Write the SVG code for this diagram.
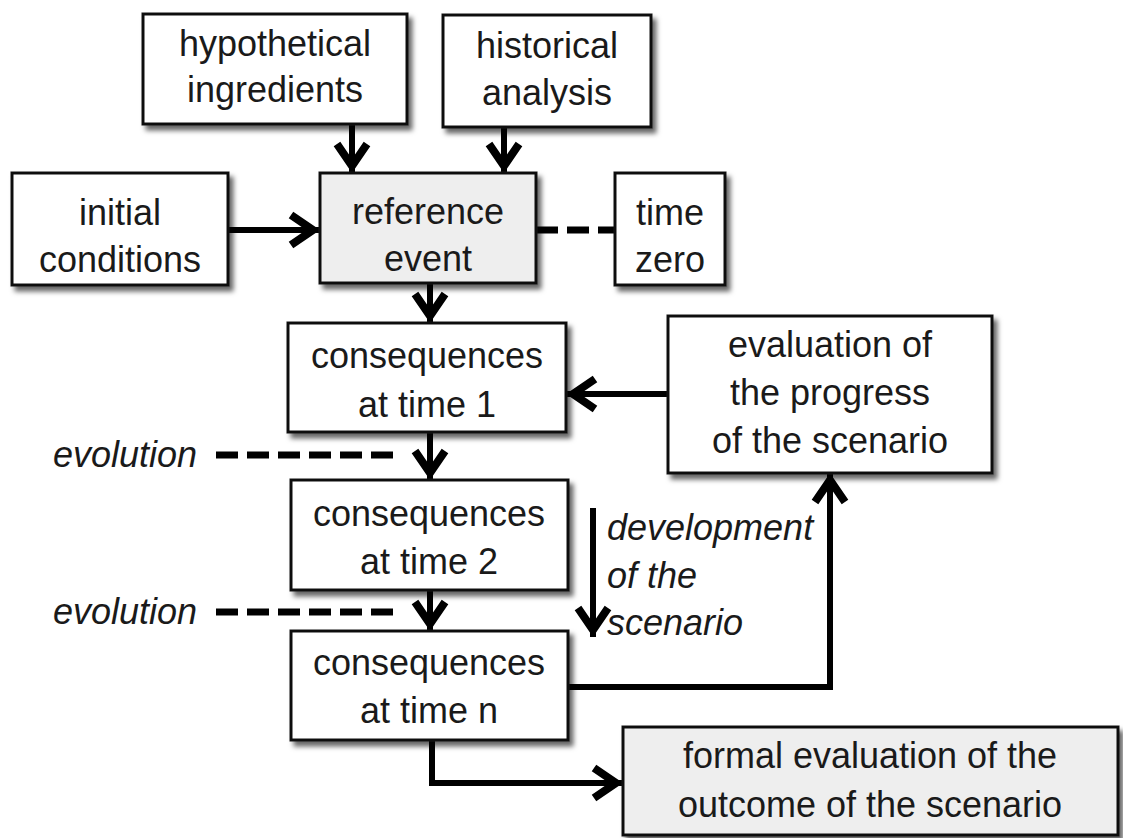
<svg xmlns="http://www.w3.org/2000/svg" width="1123" height="838" viewBox="0 0 1123 838">
<style>
.box{fill:#ffffff;stroke:#111;stroke-width:3;filter:url(#sh)}
.gray{fill:#eeeeee}
.t{font-family:"Liberation Sans",Arial,sans-serif;font-size:36px;fill:#1a1a1a;text-anchor:middle}
.it{font-family:"Liberation Sans",Arial,sans-serif;font-size:36px;fill:#1a1a1a;font-style:italic}
.c{fill:none;stroke:#000;stroke-width:6}
.a{marker-end:url(#ah)}
.d{stroke-width:7;stroke-dasharray:22 9}
</style>
<defs>
<filter id="sh" x="-10%" y="-10%" width="130%" height="140%">
<feDropShadow dx="4" dy="5" stdDeviation="2.5" flood-color="#000" flood-opacity="0.6"/>
</filter>
<marker id="ah" markerUnits="userSpaceOnUse" viewBox="-40 -25 50 50" refX="0" refY="0" markerWidth="50" markerHeight="50" orient="auto" overflow="visible">
<path d="M-29,-15 L-7,0 L-29,15" fill="none" stroke="#000" stroke-width="8"/>
</marker>
</defs>
<g id="connectors">
<path class="c a" d="M352,124 V173"/>
<path class="c a" d="M504,127 V173"/>
<path class="c a" d="M228,230 H320"/>
<path class="c d" d="M536,230 H615" stroke-dasharray="20 9"/>
<path class="c a" d="M430,283 V323"/>
<path class="c a" d="M668,394 H566"/>
<path class="c a" d="M430,432 V480"/>
<path class="c a" d="M430,590 V631"/>
<path class="c d" d="M216,455 H400"/>
<path class="c d" d="M216,612 H400"/>
<path class="c a" d="M593,508 V637"/>
<path class="c a" d="M568,687 H830 V473"/>
<path class="c a" d="M432,740 V783 H623"/>
</g>
<g id="hypothetical">
<rect class="box" x="143" y="14" width="264" height="110"/>
<text class="t" x="275" y="56">hypothetical</text>
<text class="t" x="275" y="102">ingredients</text>
</g>
<g id="historical">
<rect class="box" x="443" y="15" width="208" height="112"/>
<text class="t" x="547" y="58">historical</text>
<text class="t" x="547" y="105">analysis</text>
</g>
<g id="initial">
<rect class="box" x="12" y="173" width="216" height="112"/>
<text class="t" x="120" y="225">initial</text>
<text class="t" x="120" y="272">conditions</text>
</g>
<g id="reference">
<rect class="box gray" x="320" y="173" width="216" height="110"/>
<text class="t" x="428" y="224">reference</text>
<text class="t" x="428" y="271">event</text>
</g>
<g id="timezero">
<rect class="box" x="615" y="173" width="110" height="112"/>
<text class="t" x="670" y="225">time</text>
<text class="t" x="670" y="272">zero</text>
</g>
<g id="cons1">
<rect class="box" x="288" y="323" width="278" height="109"/>
<text class="t" x="427" y="368">consequences</text>
<text class="t" x="427" y="417">at time 1</text>
</g>
<g id="evaluation">
<rect class="box" x="668" y="316" width="324" height="157"/>
<text class="t" x="830" y="357">evaluation of</text>
<text class="t" x="830" y="405">the progress</text>
<text class="t" x="830" y="453">of the scenario</text>
</g>
<g id="cons2">
<rect class="box" x="291" y="480" width="277" height="110"/>
<text class="t" x="429" y="526">consequences</text>
<text class="t" x="429" y="574">at time 2</text>
</g>
<g id="consn">
<rect class="box" x="291" y="631" width="277" height="109"/>
<text class="t" x="429" y="675">consequences</text>
<text class="t" x="429" y="723">at time n</text>
</g>
<g id="formal">
<rect class="box gray" x="623" y="727" width="495" height="108"/>
<text class="t" x="870" y="768">formal evaluation of the</text>
<text class="t" x="870" y="817">outcome of the scenario</text>
</g>
<g id="labels">
<text class="it" x="53" y="467">evolution</text>
<text class="it" x="53" y="624">evolution</text>
<text class="it" x="607" y="540">development</text>
<text class="it" x="607" y="588">of the</text>
<text class="it" x="607" y="635">scenario</text>
</g>
</svg>
